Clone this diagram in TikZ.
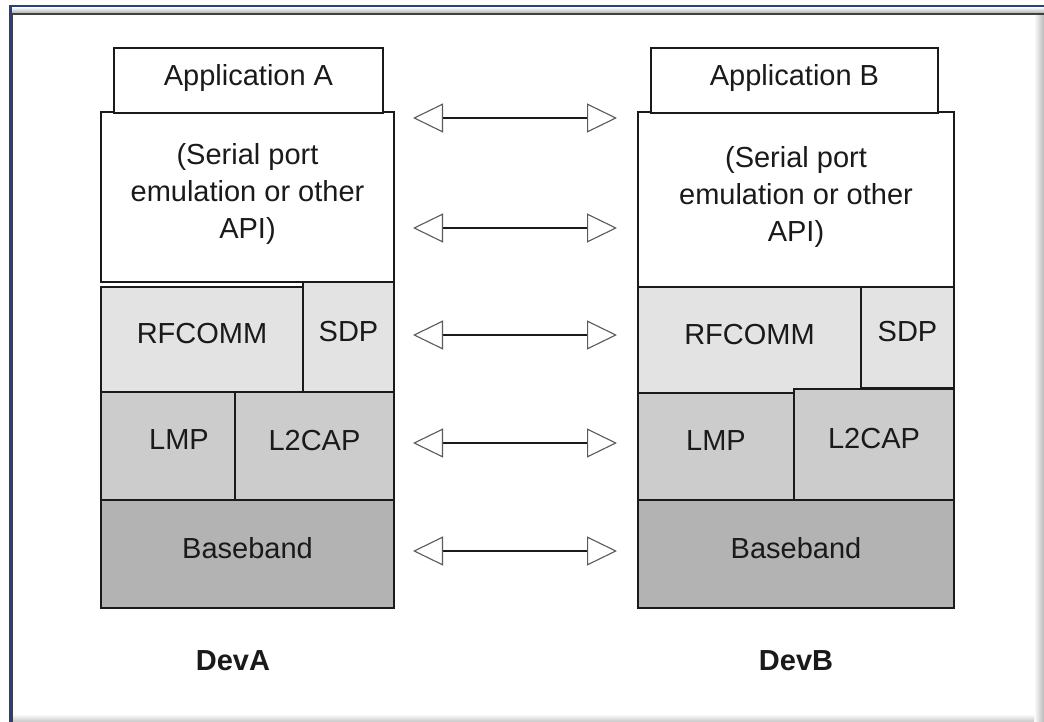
\documentclass[tikz,border=0pt]{standalone}
\usepackage{fontspec}
\setmainfont{Liberation Sans}
\usetikzlibrary{arrows.meta,positioning}
\definecolor{ink}{HTML}{1A1A1A}
\definecolor{tipC}{HTML}{5A5A5A}
\definecolor{navyC}{HTML}{2B3F7F}
\definecolor{layOne}{HTML}{E3E3E3}
\definecolor{layTwo}{HTML}{CCCCCC}
\definecolor{layThree}{HTML}{B3B3B3}
\newcommand{\layerfont}{\fontsize{29}{37}\selectfont}
\tikzset{
  >={Triangle[open,length=30pt,width=29pt,line width=1.1pt,color=tipC,fill=white]},
  layer/.style={draw=ink,line width=1.6pt,anchor=north west,inner sep=0pt,outer sep=0pt,
    font=\layerfont,text=ink,text depth=12pt,align=center,fill=white},
  devlab/.style={font=\layerfont\bfseries,text=ink},
  link/.style={<->,draw=ink,line width=1.6pt},
}
\begin{document}
\begin{tikzpicture}[x=1pt,y=-1pt]
\useasboundingbox (0,0) rectangle (1044,722);

% ---------- window frame ----------
\fill[top color=white,bottom color=gray!60] (10,7) rectangle (1044,13);
\fill[left color=white,right color=gray!55] (1034,14) rectangle (1044,722);
\fill[top color=white,bottom color=gray!45] (13,714) rectangle (1034,722);
\draw[navyC,line width=1.5pt] (9,6) -- (1044,6);
\draw[navyC,line width=3pt] (10,6) -- (10,722);
\draw[black!75,line width=1.2pt] (12,14) -- (1044,14);
\draw[black!75,line width=1.2pt] (12.5,14) -- (12.5,722);

% ================= LEFT STACK (DevA) =================
\node[layer,minimum width=293pt,minimum height=170pt] (serA) at (101,112) {(Serial port\\emulation or other\\API)};
\node[layer,minimum width=269pt,minimum height=65pt] (appA) at (114,48) {Application A};
\node[layer,fill=layOne,minimum width=202pt,minimum height=105pt] (rfA) at (101,287) {RFCOMM};
\node[layer,fill=layOne,minimum width=91pt,minimum height=110pt] (sdpA) at (303,282) {SDP};
\node[layer,fill=layTwo,minimum width=134pt,minimum height=108pt] (lmpA) at (101,392) {\hspace*{22pt}LMP};
\node[layer,fill=layTwo,minimum width=159pt,minimum height=108pt] (l2A) at (235,392) {L2CAP};
\node[layer,fill=layThree,minimum width=293pt,minimum height=108pt] (bbA) at (101,500) {Baseband};
\node[devlab] (devA) at (233,661) {DevA};

% ================= RIGHT STACK (DevB) =================
\node[layer,minimum width=316pt,minimum height=175pt] (serB) at (638,112) {(Serial port\\emulation or other\\API)};
\node[layer,minimum width=287pt,minimum height=65pt] (appB) at (651,48) {Application B};
\node[layer,fill=layOne,minimum width=223pt,minimum height=106pt] (rfB) at (638,287) {RFCOMM};
\node[layer,fill=layOne,minimum width=93pt,minimum height=101pt] (sdpB) at (861,287) {SDP};
\node[layer,fill=layTwo,minimum width=156pt,minimum height=107pt] (lmpB) at (638,393) {LMP};
\node[layer,fill=layTwo,minimum width=160pt,minimum height=111pt] (l2B) at (794,389) {L2CAP};
\node[layer,fill=layThree,minimum width=316pt,minimum height=108pt] (bbB) at (638,500) {Baseband};
\node[devlab] (devB) at (796,661) {DevB};

% ---------- peer links ----------
\coordinate (appL) at (413,118); \coordinate (appR) at (617,118);
\coordinate (serL) at (413,228); \coordinate (serR) at (617,228);
\coordinate (rfL) at (413,335);  \coordinate (rfR) at (617,335);
\coordinate (l2L) at (413,443);  \coordinate (l2R) at (617,443);
\coordinate (bbL) at (413,551);  \coordinate (bbR) at (617,551);
\draw[link] (appL) -- (appR);
\draw[link] (serL) -- (serR);
\draw[link] (rfL) -- (rfR);
\draw[link] (l2L) -- (l2R);
\draw[link] (bbL) -- (bbR);

\end{tikzpicture}
\end{document}
